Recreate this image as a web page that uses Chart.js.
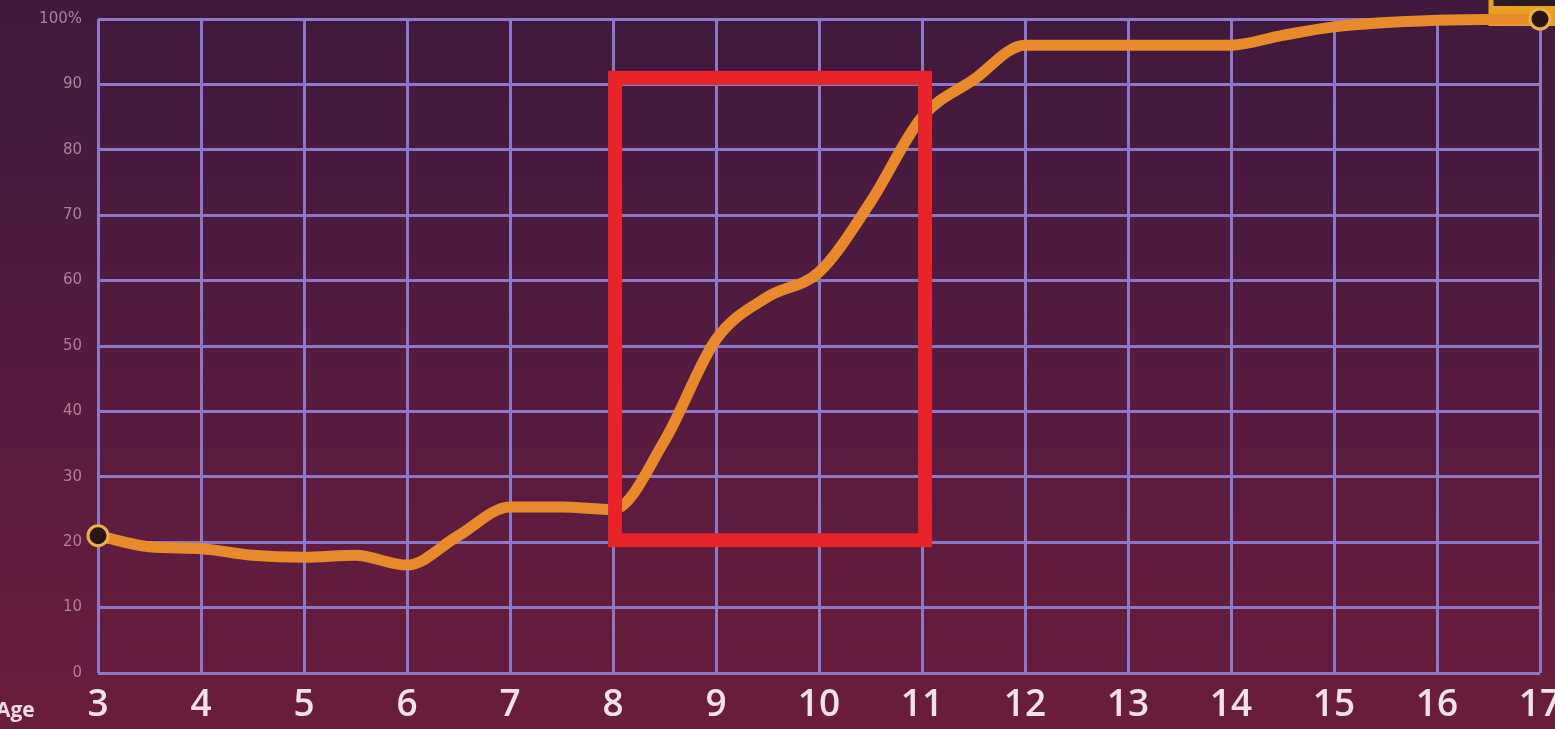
<!DOCTYPE html>
<html>
<head>
<meta charset="utf-8">
<script src="https://cdn.jsdelivr.net/npm/chart.js@4/dist/chart.umd.min.js"></script>
<style>
html,body{margin:0;padding:0;background:#4a1b40;}
#wrap{width:1555px;height:729px;position:relative;background:linear-gradient(180deg,#3f1a3e 0%,#521b40 45%,#6a1d3c 100%);}
canvas{display:block;}
</style>
</head>
<body>
<div id="wrap"><canvas id="c" width="1555" height="729"></canvas></div>
<script>
// Data
const ages   = [3, 3.5, 4, 4.5, 5, 5.5, 6, 6.5, 7, 7.5, 8, 8.5, 9, 9.5, 10, 10.5, 11, 11.5, 12, 13, 14, 14.5, 15, 16, 17];
const values = [21, 19.3, 19, 18, 17.7, 18, 16.5, 21, 25.4, 25.4, 25, 35.5, 51, 57.5, 61.3, 72, 85, 90.7, 96, 96, 96, 97.5, 98.8, 99.8, 100];
const xTicks = [3,4,5,6,7,8,9,10,11,12,13,14,15,16,17];
const yTicks = [0,10,20,30,40,50,60,70,80,90,100];
// highlight box: age range and value range
const boxAges   = [8.02, 11.03];
const boxValues = [20.3, 91];

const overlay = {
  id: 'overlay',
  afterDatasetsDraw(chart) {
    const {ctx, scales:{x, y}} = chart;
    ctx.save();
    const x0 = x.getPixelForValue(boxAges[0]), x1 = x.getPixelForValue(boxAges[1]);
    const y0 = y.getPixelForValue(boxValues[1]), y1 = y.getPixelForValue(boxValues[0]);
    ctx.strokeStyle = '#e8242b';
    ctx.lineWidth = 14;
    ctx.strokeRect(x0, y0, x1 - x0, y1 - y0);
    ctx.fillStyle = '#f2dbe6';
    ctx.font = 'bold 21px "Open Sans"';
    ctx.textAlign = 'left';
    ctx.textBaseline = 'middle';
    ctx.fillText('Age', -4, 711);
    ctx.restore();
  },
  beforeDatasetsDraw(chart) {
    const {ctx, scales:{x}} = chart;
    ctx.save();
    const bx = x.getPixelForValue(16.5);
    ctx.fillStyle = '#e8a020';
    ctx.fillRect(bx, 0, 80, 26);
    ctx.fillStyle = '#2a1a22';
    ctx.fillRect(bx + 5, 0, 80, 6);
    ctx.restore();
  }
};

new Chart(document.getElementById('c'), {
  type: 'line',
  data: {
    datasets: [{
      data: ages.map((a, i) => ({x: a, y: values[i]})),
      borderColor: '#e88a2c',
      borderWidth: 11,
      tension: 0.4,
      cubicInterpolationMode: 'monotone',
      fill: false,
      clip: false,
      pointRadius: ctx => (ctx.dataIndex === 0 || ctx.dataIndex === ages.length - 1) ? 10 : 0,
      pointBackgroundColor: '#2b1412',
      pointBorderColor: '#e8b246',
      pointBorderWidth: 3,
      pointHoverRadius: 0
    }]
  },
  options: {
    responsive: false,
    animation: false,
    layout: {padding: {top: 19, right: 15, left: 0, bottom: 0}},
    plugins: {legend: {display: false}, tooltip: {enabled: false}},
    scales: {
      x: {
        type: 'linear',
        min: 3, max: 17,
        afterBuildTicks: s => { s.ticks = xTicks.map(v => ({value: v})); },
        afterFit: s => { s.height = 56; s.paddingLeft = 0; s.paddingRight = 0; },
        grid: {color: '#8c78c6', lineWidth: 3, drawTicks: false},
        border: {display: false},
        ticks: {
          color: '#f3e2ea',
          font: {family: 'Open Sans', size: 37, weight: '600'},
          padding: 10,
          maxRotation: 0,
          autoSkip: false
        }
      },
      y: {
        min: 0, max: 100,
        afterBuildTicks: s => { s.ticks = yTicks.map(v => ({value: v})); },
        afterFit: s => { s.width = 98; s.paddingTop = 0; s.paddingBottom = 0; },
        grid: {color: '#8c78c6', lineWidth: 3, drawTicks: false},
        border: {display: false},
        ticks: {
          color: '#b07f9a',
          font: {family: 'DejaVu Sans', size: 15},
          padding: 16,
          callback: v => v === 100 ? '100%' : String(v)
        }
      }
    }
  },
  plugins: [overlay]
});
</script>
</body>
</html>
